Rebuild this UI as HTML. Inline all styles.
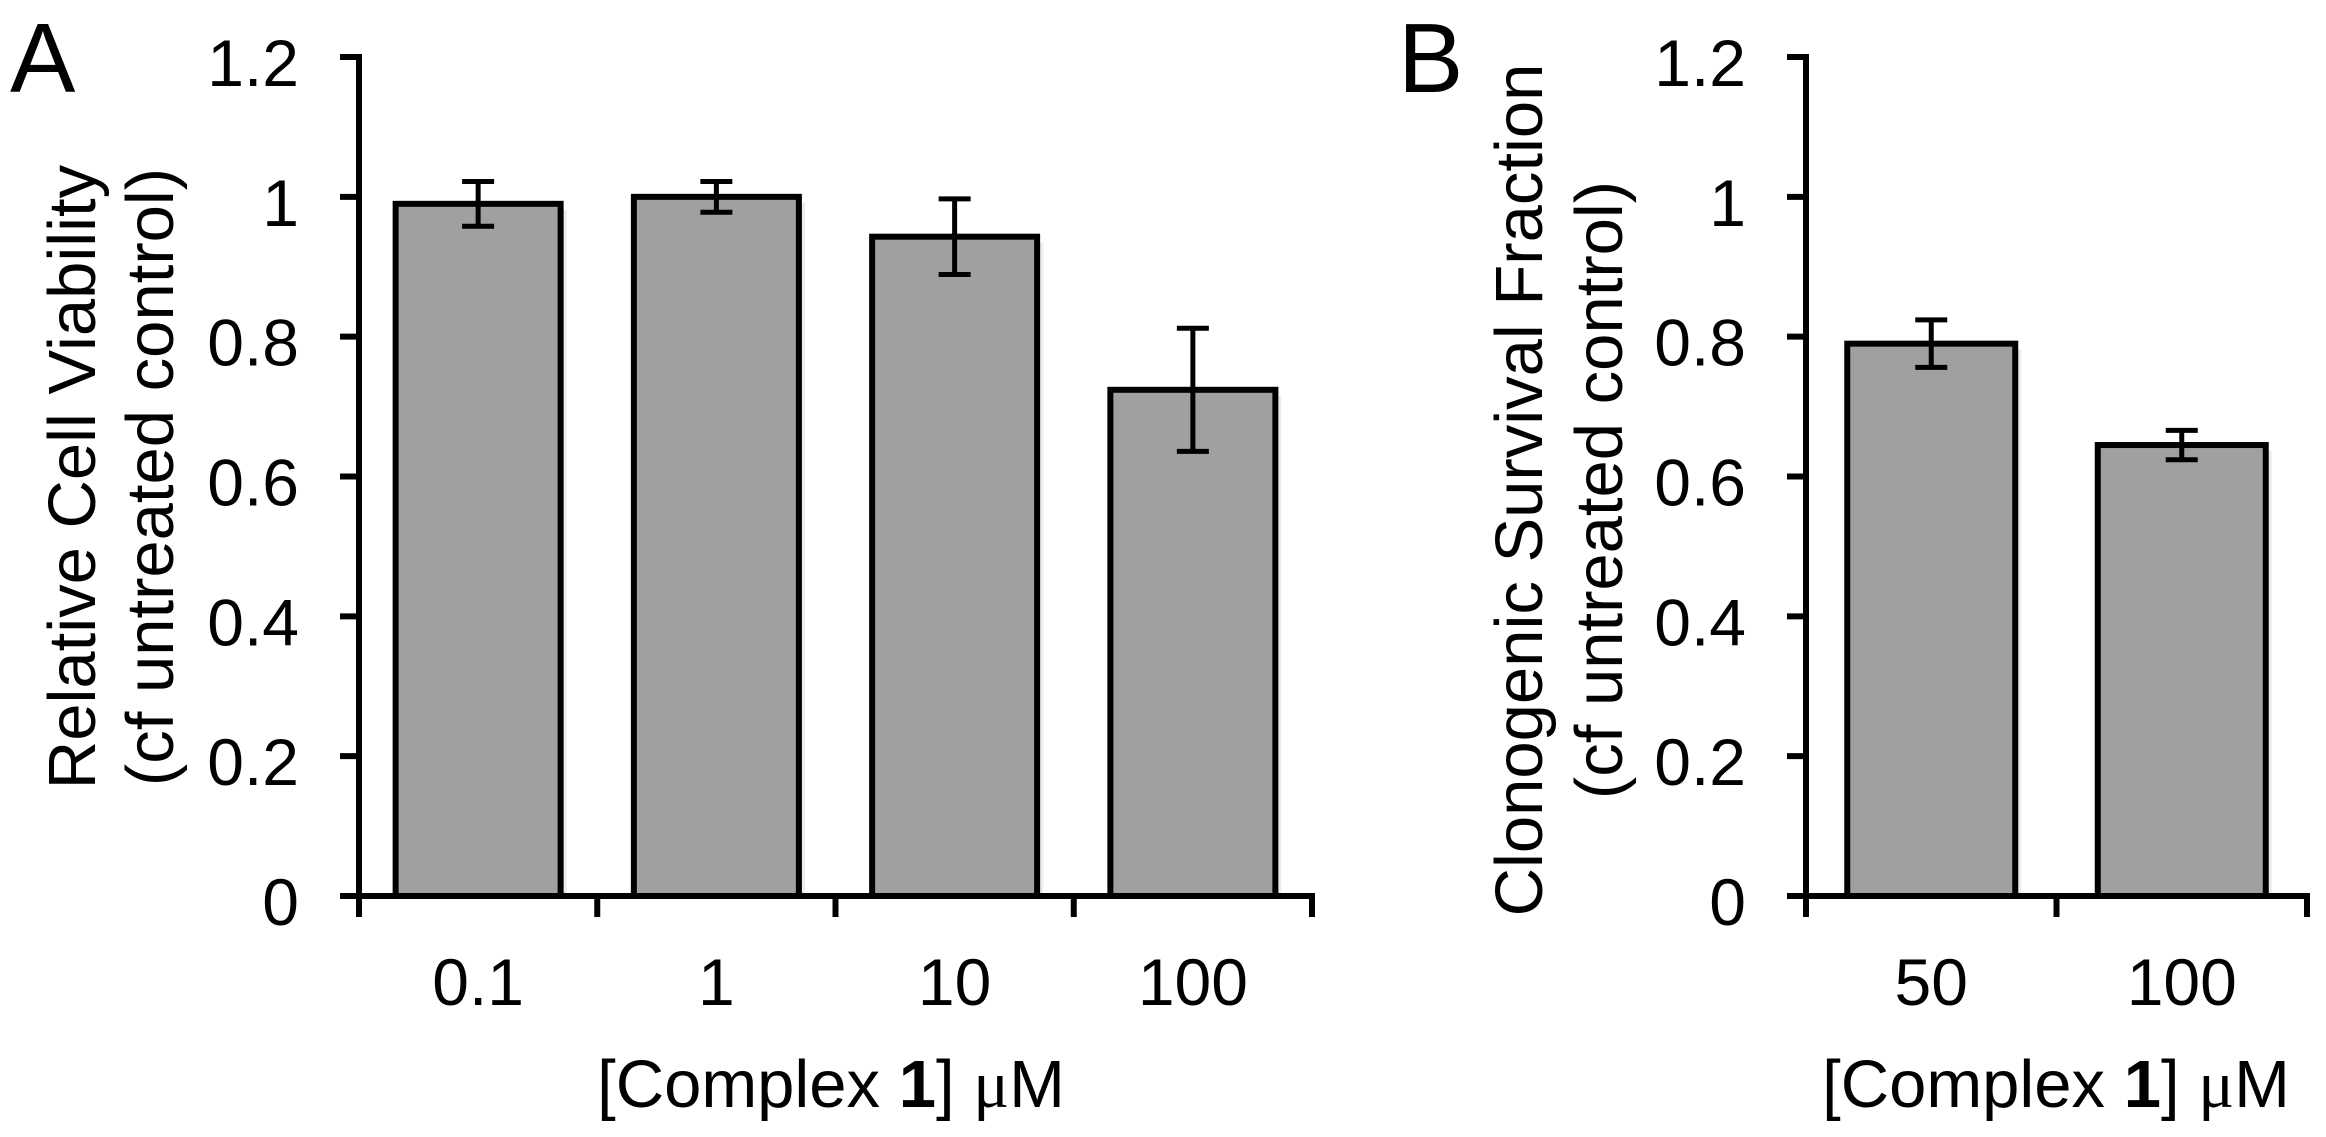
<!DOCTYPE html>
<html><head><meta charset="utf-8"><style>
html,body{margin:0;padding:0;background:#fff}
svg{display:block;font-family:"Liberation Sans",Arial,sans-serif}
</style></head><body>
<svg id="chart" width="2326" height="1137" viewBox="0 0 2326 1137" xmlns="http://www.w3.org/2000/svg">
<rect width="2326" height="1137" fill="#fff"/>
<g id="pa"></g>
<g id="pb"></g>
</svg>
<script>
const catsA = ["0.1","1","10","100"];
const valsA = [0.99,1.0,0.943,0.724];
const errsA = [0.032,0.022,0.054,0.088];
const catsB = ["50","100"];
const valsB = [0.79,0.645];
const errsB = [0.034,0.021];
const yTicks = [0,0.2,0.4,0.6,0.8,1,1.2];
const yTickLabels = ["0","0.2","0.4","0.6","0.8","1","1.2"];

const NS="http://www.w3.org/2000/svg";
function mk(parent,tag,attrs,text){const e=document.createElementNS(NS,tag);for(const k in attrs)e.setAttribute(k,attrs[k]);if(text!==undefined)e.textContent=text;parent.appendChild(e);return e;}

function panel(g,opt,cats,vals,errs){
  const y0=896,y1=57,yMax=1.2;
  const y=v=>y0-(v/yMax)*(y0-y1);
  const cw=(opt.xEnd-opt.ax)/cats.length;
  const x=i=>opt.ax+cw*(i+0.5);
  cats.forEach((c,i)=>{
    const bw=opt.bw;
    const s=mk(g,'rect',{x:x(i)-bw/2+6,y:y(vals[i])+6,width:bw,height:y0-y(vals[i])-6,fill:'#ececec'});
    
    
    const b=mk(g,'rect',{x:x(i)-bw/2,y:y(vals[i]),width:bw,height:y0-y(vals[i]),fill:'#a0a0a0',stroke:'#000','stroke-width':6});
    
    
    const eg=mk(g,'g',{stroke:'#000','stroke-width':5});
    
    
    const xc=x(i),t=y(vals[i]+errs[i]),bt=y(vals[i]-errs[i]);
    mk(eg,'line',{x1:xc,x2:xc,y1:t,y2:bt});
    mk(eg,'line',{x1:xc-16,x2:xc+16,y1:t,y2:t});
    mk(eg,'line',{x1:xc-16,x2:xc+16,y1:bt,y2:bt});
    const tl=mk(g,'text',{x:xc,y:1005,'font-size':66,'text-anchor':'middle',fill:'#000'},c);
    
    
  });
  const ya=mk(g,'line',{x1:opt.ax,x2:opt.ax,y1:y1-3,y2:y0+3,stroke:'#000','stroke-width':6});
  
  
  const xa=mk(g,'line',{x1:opt.ax-19,x2:opt.xEnd+3,y1:y0,y2:y0,stroke:'#000','stroke-width':6});
  
  
  yTicks.forEach((v,i)=>{
    const tk=mk(g,'line',{x1:opt.ax-19,x2:opt.ax,y1:y(v),y2:y(v),stroke:'#000','stroke-width':6});
    
    
    const lb=mk(g,'text',{x:opt.ax-60,y:y(v)+29,'font-size':66,'text-anchor':'end',fill:'#000'},yTickLabels[i]);
    
    
  });
  for(let i=0;i<=cats.length;i++){
    const xt=opt.ax+cw*i;
    const tk=mk(g,'line',{x1:xt,x2:xt,y1:y0,y2:917,stroke:'#000','stroke-width':6});
    
    
  }
}
const pa=document.getElementById('pa'), pb=document.getElementById('pb');
panel(pa,{ax:359,xEnd:1312,bw:165},catsA,valsA,errsA);
panel(pb,{ax:1806,xEnd:2307,bw:168},catsB,valsB,errsB);
</script>
<svg style="position:absolute;left:0;top:0" width="2326" height="1137" xmlns="http://www.w3.org/2000/svg">
<text x="10" y="92" font-size="98" font-family="Liberation Sans, sans-serif">A</text>
<text x="1398" y="92" font-size="98" font-family="Liberation Sans, sans-serif">B</text>
<text transform="translate(95,477) rotate(-90)" text-anchor="middle" font-size="67" font-family="Liberation Sans, sans-serif">Relative Cell Viability</text>
<text transform="translate(173,477) rotate(-90)" text-anchor="middle" font-size="67" font-family="Liberation Sans, sans-serif">(cf untreated control)</text>
<text transform="translate(1542,490) rotate(-90)" text-anchor="middle" font-size="67" font-family="Liberation Sans, sans-serif">Clonogenic Survival Fraction</text>
<text transform="translate(1622,490) rotate(-90)" text-anchor="middle" font-size="67" font-family="Liberation Sans, sans-serif">(cf untreated control)</text>
<text x="831" y="1107" text-anchor="middle" font-size="67" font-family="Liberation Sans, sans-serif">[Complex <tspan font-weight="bold">1</tspan>] <tspan font-family="Liberation Serif, serif">μ</tspan>M</text>
<text x="2056" y="1107" text-anchor="middle" font-size="67" font-family="Liberation Sans, sans-serif">[Complex <tspan font-weight="bold">1</tspan>] <tspan font-family="Liberation Serif, serif">μ</tspan>M</text>
</svg>
</body></html>
